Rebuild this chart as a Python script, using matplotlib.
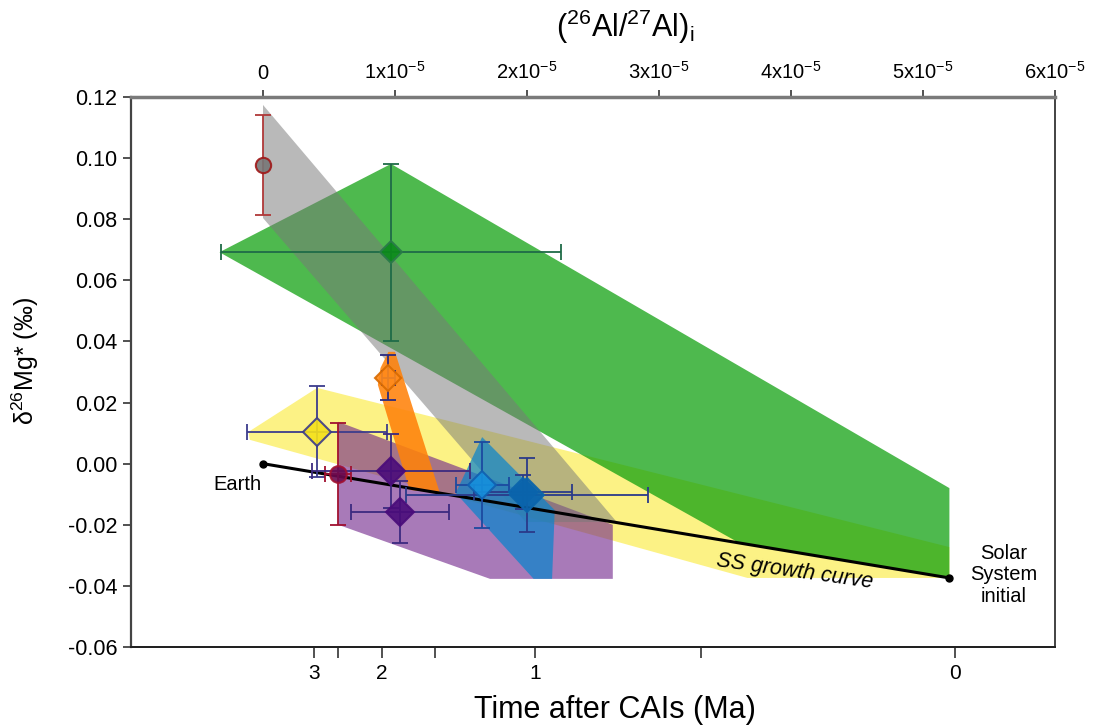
import matplotlib
matplotlib.use("Agg")
import matplotlib.pyplot as plt
from matplotlib.patches import Polygon

plt.rcParams['font.family'] = ['Liberation Sans', 'DejaVu Sans']
plt.rcParams['mathtext.fontset'] = 'custom'
plt.rcParams['mathtext.rm'] = 'Liberation Sans'
plt.rcParams['mathtext.it'] = 'Liberation Sans:italic'
plt.rcParams['axes.unicode_minus'] = False

# x in units of 1e-5 (26Al/27Al)i, y = d26Mg* (permil)
yellow_x = [-0.11, 0.41, 5.2, 5.2, 3.67, -0.10]
yellow_y = [0.0104, 0.0248, -0.0273, -0.0374, -0.0374, 0.0078]
green_x = [-0.33, 0.97, 5.2, 5.2, 3.61]
green_y = [0.0692, 0.0981, -0.0080, -0.0374, -0.0260]
purple_x = [0.57, 2.65, 2.65, 1.72, 0.57]
purple_y = [0.0137, -0.0200, -0.0377, -0.0377, -0.0200]
gray_x = [0.0, 2.68, 1.99, 0.0]
gray_y = [0.1174, -0.0191, -0.0191, 0.0804]
blue_x = [1.66, 2.21, 2.19, 2.05, 1.46]
blue_y = [0.0087, -0.0152, -0.0377, -0.0377, -0.0096]
orange_x = [0.95, 1.00, 1.34, 1.11, 0.87, 0.89]
orange_y = [0.0366, 0.0366, -0.0096, -0.0086, 0.0258, 0.0313]

# growth curve
ss_x = [0.0, 5.2]
ss_y = [0.0, -0.0374]

# data points: x, y, xerr, yerr
pts_x = [0.0, 0.97, 0.95, 0.41, 0.57, 0.97, 1.04, 1.66, 1.97, 2.00]
pts_y = [0.0977, 0.0692, 0.0281, 0.0104, -0.0034, -0.0024, -0.0158, -0.0070, -0.0092, -0.0102]
pts_xerr = [0.0, 1.29, 0.05, 0.53, 0.10, 0.60, 0.37, 0.20, 0.37, 0.92]
pts_yerr = [0.0163, 0.029, 0.0074, 0.0149, 0.0168, 0.012, 0.010, 0.014, 0.0055, 0.012]
pts_marker = ['o', 'D', 'D', 'D', 'o', 'D', 'D', 'D', 'D', 'D']
pts_ms = [11, 11, 13, 14, 12, 14, 14, 14, 14, 17]
pts_fc = ['#777777', '#0b8a1a', '#ff8a1a', '#f5e11a', '#6a0a50', '#4a0c7a', '#4a0c7a', '#1590dc', '#0a64ac', '#0a64ac']
pts_ec = ['#a01818', '#2a7a4a', '#d86a00', '#3a3a8a', '#a01030', '#4a0c7a', '#4a0c7a', '#1060b0', '#0a64ac', '#0a64ac']
pts_ecol = ['#b03838', '#1f6b48', '#2a2a80', '#3c3c8c', '#a01030', '#3c2a80', '#3c2a80', '#1c4aa0', '#2a3a8a', '#2a3a8a']

top_ticks = [0, 1, 2, 3, 4, 5, 6]
top_labels = ['0'] + [r'%dx10$^{-5}$' % v for v in top_ticks[1:]]
y_ticks = [-0.06, -0.04, -0.02, 0.00, 0.02, 0.04, 0.06, 0.08, 0.10, 0.12]
time_tick_pos = [0.39, 0.57, 0.90, 1.30, 2.06, 3.32, 5.24]
time_tick_labels = ['3', '', '2', '', '1', '', '0']

fig = plt.figure(figsize=(11.02, 7.27), dpi=100)
ax = fig.add_axes([131 / 1102, 1 - 647 / 727, 924 / 1102, 550 / 727])
ax.set_xlim(-1.0, 6.0)
ax.set_ylim(-0.06, 0.12)

ax.add_patch(Polygon(list(zip(yellow_x, yellow_y)), closed=True, fc='#fcf070', alpha=0.85, ec='none', zorder=1))
ax.add_patch(Polygon(list(zip(green_x, green_y)), closed=True, fc='#0a9e0a', alpha=0.72, ec='none', zorder=2))
ax.add_patch(Polygon(list(zip(purple_x, purple_y)), closed=True, fc='#6e2189', alpha=0.6, ec='none', zorder=3))
ax.add_patch(Polygon(list(zip(gray_x, gray_y)), closed=True, fc='#797979', alpha=0.52, ec='none', zorder=4))
ax.add_patch(Polygon(list(zip(blue_x, blue_y)), closed=True, fc='#0a84cc', alpha=0.72, ec='none', zorder=5))
ax.add_patch(Polygon(list(zip(orange_x, orange_y)), closed=True, fc='#ff820a', alpha=0.88, ec='none', zorder=6))

ax.plot(ss_x, ss_y, color='black', lw=2.2, zorder=7)
ax.plot(ss_x, ss_y, 'o', color='black', ms=5, zorder=7)

for i in range(len(pts_x)):
    xe = pts_xerr[i] if pts_xerr[i] > 0 else None
    ax.errorbar(pts_x[i], pts_y[i], xerr=xe, yerr=pts_yerr[i], fmt='none',
                ecolor=pts_ecol[i], elinewidth=1.3, capsize=6, capthick=1.3, zorder=8)
    ax.plot(pts_x[i], pts_y[i], marker=pts_marker[i], ms=pts_ms[i], mfc=pts_fc[i],
            mec=pts_ec[i], mew=1.5, ls='none', zorder=9, alpha=0.9)

ax.text(-0.19, -0.0068, 'Earth', ha='center', va='center', fontsize=14.5, zorder=10)
ax.text(4.03, -0.0354, 'SS growth curve', ha='center', va='center', fontsize=15.5,
        style='italic', rotation=-8, zorder=10)
ax.text(5.61, -0.0364, 'Solar\nSystem\ninitial', ha='center', va='center', fontsize=14.5,
        linespacing=1.15, zorder=10)

# top axis
ax.xaxis.set_ticks_position('top')
ax.xaxis.set_label_position('top')
ax.set_xticks(top_ticks)
ax.set_xticklabels(top_labels, fontsize=14.5)
ax.set_xlabel(r'($^{26}$Al/$^{27}$Al)$_{\rm i}$', fontsize=22)
ax.xaxis.set_label_coords(0.535, 1.11)
ax.tick_params(axis='x', direction='out', length=5, width=1.2, color='#333333', pad=5)

ax.set_yticks(y_ticks)
ax.set_yticklabels(['%.2f' % v for v in y_ticks], fontsize=15.5)
ax.tick_params(axis='y', direction='out', length=6, width=1.2, color='#333333', pad=4)
ax.set_ylabel(r'δ$^{26}$Mg* (‰)', fontsize=18)
ax.yaxis.set_label_coords(-0.097, 0.52)

ax.spines['top'].set_color('#7a7a7a')
ax.spines['top'].set_linewidth(2.5)
ax.spines['left'].set_color('#444444')
ax.spines['left'].set_linewidth(1.6)
ax.spines['right'].set_color('#222222')
ax.spines['right'].set_linewidth(1.2)
ax.spines['bottom'].set_color('#222222')
ax.spines['bottom'].set_linewidth(1.4)

# bottom time axis
sec = ax.secondary_xaxis('bottom')
sec.set_xticks(time_tick_pos)
sec.set_xticklabels(time_tick_labels, fontsize=15)
sec.tick_params(direction='out', length=8, width=1.2, color='#333333', pad=4)
sec.spines['bottom'].set_color('#222222')
sec.spines['bottom'].set_linewidth(1.4)
fig.text(615 / 1102, 1 - 710 / 727, 'Time after CAIs (Ma)', fontsize=22, ha='center', va='center')

fig.savefig('out.png', dpi=100)
